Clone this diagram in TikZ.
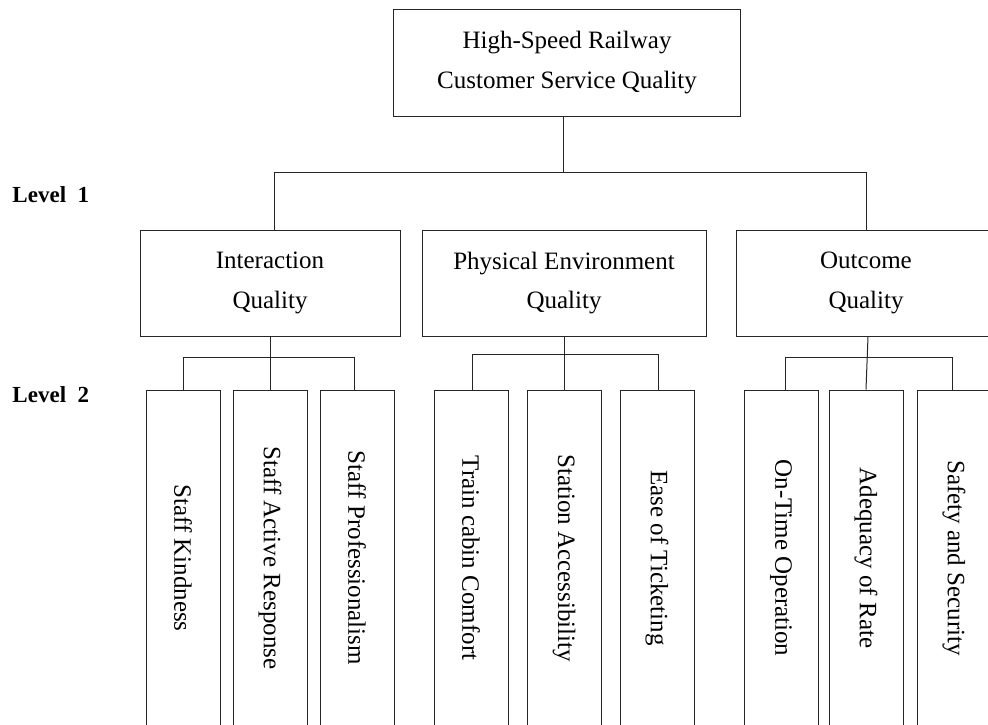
\documentclass[tikz,border=0pt]{standalone}
\usepackage{fontspec}
\setmainfont{Liberation Serif}
\begin{document}
\begin{tikzpicture}[x=1pt,y=-1pt,
  line width=1pt, draw=black!85,
  box/.style={draw=black!85, line width=1pt, rectangle, inner sep=0pt, align=center,
    font=\fontsize{25}{39.5}\selectfont},
  topbox/.style={box, minimum width=347pt, minimum height=107pt},
  lonebox/.style={box, minimum height=106pt},
  leafbox/.style={box, minimum width=74pt, minimum height=336pt},
  lvl/.style={anchor=base west, inner sep=0pt, font=\fontsize{23}{28}\selectfont\bfseries},
  conn/.style={draw=black!85, line width=1pt}]
\useasboundingbox (0,0) rectangle (988,724);
\clip (0,0) rectangle (988,724);
\fill[white] (0,0) rectangle (988,724);

% root
\node[topbox] (top) at (567,62.5) {High-Speed Railway\\Customer Service Quality};

% level 1
\node[lonebox, minimum width=260pt] (l1a) at (270,283) {Interaction\\Quality};
\node[lonebox, minimum width=284pt] (l1b) at (564,283) {Physical Environment\\Quality};
\node[lonebox, minimum width=260pt] (l1c) at (866,283) {Outcome\\Quality};

% level labels
\node[lvl] (lv1) at (12,202) {Level~~1};
\node[lvl] (lv2) at (12,402) {Level~~2};

% level 2 leaves
\node[leafbox] (a1) at (183,558) {\rotatebox{-90}{Staff Kindness}};
\node[leafbox] (a2) at (270,558) {\rotatebox{-90}{Staff Active Response}};
\node[leafbox] (a3) at (357,558) {\rotatebox{-90}{Staff Professionalism}};
\node[leafbox] (b1) at (471,558) {\rotatebox{-90}{Train cabin Comfort}};
\node[leafbox] (b2) at (564,558) {\rotatebox{-90}{Station Accessibility}};
\node[leafbox] (b3) at (657,558) {\rotatebox{-90}{Ease of Ticketing}};
\node[leafbox] (c1) at (781,558) {\rotatebox{-90}{On-Time Operation}};
\node[leafbox] (c2) at (866,558) {\rotatebox{-90}{Adequacy of Rate}};
\node[leafbox] (c3) at (954,558) {\rotatebox{-90}{Safety and Security}};

% connectors root -> level 1
\coordinate (j1) at (563,173);
\draw[conn] ([xshift=-4pt]top.south) -- (j1);
\draw[conn] ([xshift=4pt]l1a.north) -- ++(0,-57) -| (l1c.north);

% connectors level 1 -> level 2
\draw[conn] (l1a.south) -- (a2.north);
\draw[conn] (a1.north) -- ++(0,-32) -| ([xshift=-3pt]a3.north);
\draw[conn] (l1b.south) -- (b2.north);
\draw[conn] ([xshift=1pt]b1.north) -- ++(0,-35) -| ([xshift=1pt]b3.north);
\draw[conn] ([xshift=2pt]l1c.south) -- (c2.north);
\draw[conn] ([xshift=4pt]c1.north) -- ++(0,-32) -| ([xshift=-2pt]c3.north);
\end{tikzpicture}
\end{document}
